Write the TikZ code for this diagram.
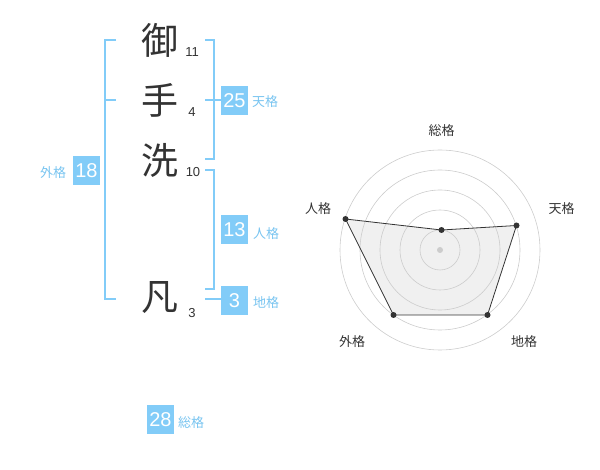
\documentclass[tikz,border=0pt]{standalone}
\usepackage{fontspec}
\setmainfont{Liberation Sans}
\newfontfamily\cjk{Noto Sans CJK JP}
\definecolor{lb}{RGB}{130,204,248}
\definecolor{lbt}{RGB}{120,196,240}
\definecolor{dk}{RGB}{51,51,51}
\definecolor{gr}{RGB}{204,204,204}
\tikzset{
  kan/.style={font=\cjk\fontsize{37}{37}\selectfont, text=dk, inner sep=0pt},
  cnt/.style={font=\fontsize{13}{13}\selectfont, text=dk, inner sep=0pt},
  numbox/.style={fill=lb, text=white, font=\fontsize{20}{20}\selectfont, minimum width=27pt, minimum height=29pt, inner sep=0pt},
  lab/.style={font=\cjk\fontsize{13}{13}\selectfont, text=lbt, inner sep=0pt},
  br/.style={draw=lb, line width=1.6pt},
  rlab/.style={font=\cjk\fontsize{13}{13}\selectfont, text=dk, inner sep=0pt},
  ring/.style={draw=gr, line width=0.6pt},
  dot/.style={circle, fill=dk, inner sep=0pt, minimum size=6pt},
}
\begin{document}
\begin{tikzpicture}[x=1pt,y=-1pt]
\useasboundingbox (0,0) rectangle (600,470);
% kanji
\node[kan] (k1) at (160,40) {御};
\node[kan] (k2) at (160,100) {手};
\node[kan] (k3) at (160,160) {洗};
\node[kan] (k4) at (160,298) {凡};
\node[cnt] (n1) at (192,52) {11};
\node[cnt] (n2) at (192,112) {4};
\node[cnt] (n3) at (193,172) {10};
\node[cnt] (n4) at (192,313) {3};
% outer bracket
\coordinate (oa) at (116,40);
\coordinate (ob) at (105,40);
\coordinate (oc) at (105,299);
\coordinate (od) at (116,299);
\coordinate (om1) at (105,100);
\coordinate (om2) at (116,100);
\draw[br] (oa) -- (ob) -- (oc) -- (od);
\draw[br] (om1) -- (om2);
\node[numbox] (b18) at (86.5,171) {18};
\node[lab] (l18) at (53,173) {外格};
% ten bracket
\coordinate (ta) at (205,40);
\coordinate (tb) at (214,40);
\coordinate (tc) at (214,159);
\coordinate (td) at (205,159);
\coordinate (tm1) at (205,100);
\coordinate (tm2) at (221,100);
\draw[br] (ta) -- (tb) -- (tc) -- (td);
\draw[br] (tm1) -- (tm2);
\node[numbox] (b25) at (234.5,100.5) {25};
\node[lab] (l25) at (265,102) {天格};
% jin bracket
\coordinate (ja) at (205,170);
\coordinate (jb) at (214,170);
\coordinate (jc) at (214,289);
\coordinate (jd) at (205,289);
\draw[br] (ja) -- (jb) -- (jc) -- (jd);
\node[numbox] (b13) at (234.5,230) {13};
\node[lab] (l13) at (266,234) {人格};
% chi
\coordinate (ca) at (205,299);
\node[numbox] (b3) at (234.5,300.5) {3};
\draw[br] (ca) -- (ca -| b3.west);
\node[lab] (l3) at (266,303) {地格};
% so
\node[numbox] (b28) at (160.5,419.5) {28};
\node[lab] (l28) at (191,423) {総格};
% radar
\coordinate (c) at (440,250);
\fill[black!6] (441.5,230) -- (516.5,225.5) -- (487.5,315) -- (393.5,315) -- (345.5,219) -- cycle;
\foreach \r in {20,40,60,80,100} \draw[ring] (c) circle (\r);
\node[circle, fill=gr, inner sep=0pt, minimum size=6pt] (cd) at (c) {};
\node[dot] (s) at (441.5,230) {};
\node[dot] (t) at (516.5,225.5) {};
\node[dot] (ch) at (487.5,315) {};
\node[dot] (g) at (393.5,315) {};
\node[dot] (j) at (345.5,219) {};
\draw[dk, line width=0.8pt] (s.center) -- (t.center) -- (ch.center) -- (g.center) -- (j.center) -- cycle;
\node[rlab] (rs) at (441.5,130.5) {総格};
\node[rlab] (rt) at (561.5,209) {天格};
\node[rlab] (rj) at (318,209) {人格};
\node[rlab] (rc) at (524,342) {地格};
\node[rlab] (rg) at (352,342) {外格};
\end{tikzpicture}
\end{document}
